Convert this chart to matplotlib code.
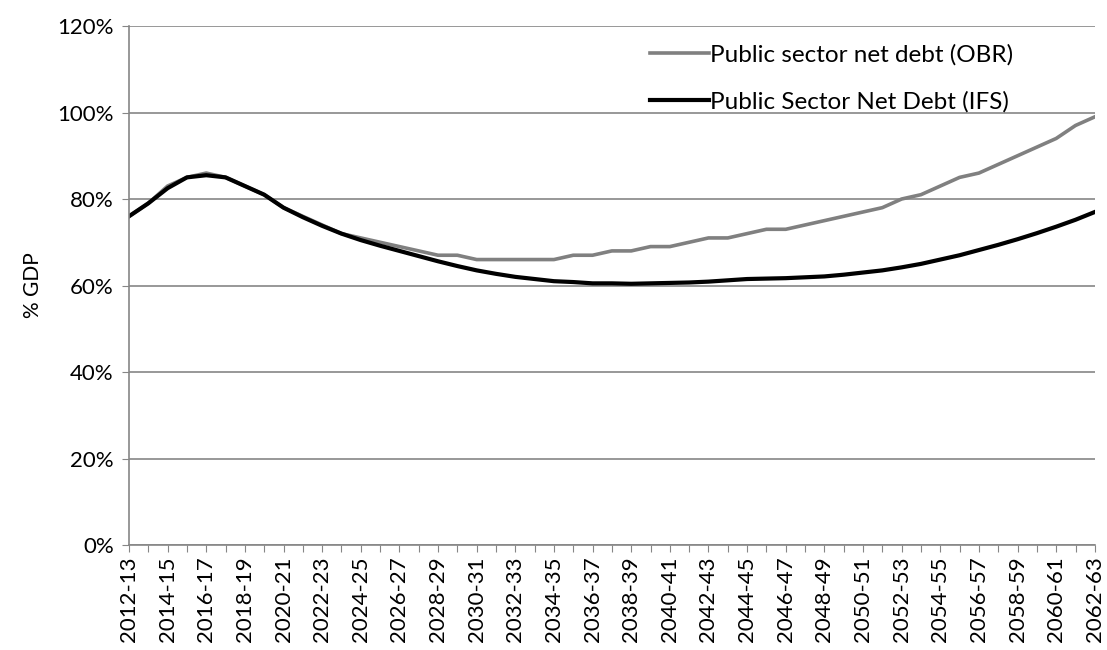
import numpy as np
import matplotlib.pyplot as plt
from matplotlib.ticker import PercentFormatter

# --- data (% of GDP) ---
years = [f"{y}-{str(y + 1)[-2:]}" for y in range(2012, 2063)]

obr = [76, 79, 83, 85, 86, 85, 83, 81, 78, 76,
       74, 72, 71, 70, 69, 68, 67, 67, 66, 66,
       66, 66, 66, 67, 67, 68, 68, 69, 69, 70,
       71, 71, 72, 73, 73, 74, 75, 76, 77, 78,
       80, 81, 83, 85, 86, 88, 90, 92, 94, 97,
       99]

ifs = [76, 79, 82.5, 85, 85.5, 85, 83, 81, 78, 75.8,
       73.8, 72, 70.5, 69.2, 68, 66.8, 65.6, 64.5, 63.5, 62.7,
       62, 61.5, 61, 60.8, 60.5, 60.5, 60.4, 60.5, 60.6, 60.7,
       60.9, 61.2, 61.5, 61.6, 61.7, 61.9, 62.1, 62.5, 63, 63.5,
       64.2, 65, 66, 67, 68.2, 69.4, 70.7, 72.1, 73.6, 75.2,
       77]

plt.rcParams['font.family'] = ['Lato', 'DejaVu Sans']

fig = plt.figure(figsize=(11.07, 6.5), dpi=100)
ax = fig.add_axes([0.1165, 0.1615, 0.8725, 0.7985])

x = np.arange(len(years))
ax.plot(x, obr, color='#808080', lw=2.6, label='Public sector net debt (OBR)')
ax.plot(x, ifs, color='black', lw=3.0, label='Public Sector Net Debt (IFS)')

ax.set_xlim(0, len(years) - 1)
ax.set_ylim(0, 120)
ax.set_yticks(range(0, 121, 20))
ax.yaxis.set_major_formatter(PercentFormatter(decimals=0))
ax.set_xticks(x)
ax.set_xticklabels([y if i % 2 == 0 else '' for i, y in enumerate(years)],
                   rotation=90, fontsize=16)
ax.tick_params(axis='y', labelsize=16, length=5, color='#868686', pad=6)
ax.tick_params(axis='x', length=5, color='#868686', pad=3)
ax.set_ylabel('% GDP', fontsize=15, labelpad=10)

ax.grid(axis='y', color='#868686', lw=1.2)
ax.set_axisbelow(True)
for s in ['top', 'right']:
    ax.spines[s].set_visible(False)
for s in ['left', 'bottom']:
    ax.spines[s].set_color('#868686')
    ax.spines[s].set_linewidth(1.2)

ax.legend(loc='upper left', bbox_to_anchor=(0.517, 1.008), frameon=False,
          fontsize=17.5, handlelength=2.4, handletextpad=0.05, labelspacing=1.05)

fig.savefig('out.png', dpi=100)
